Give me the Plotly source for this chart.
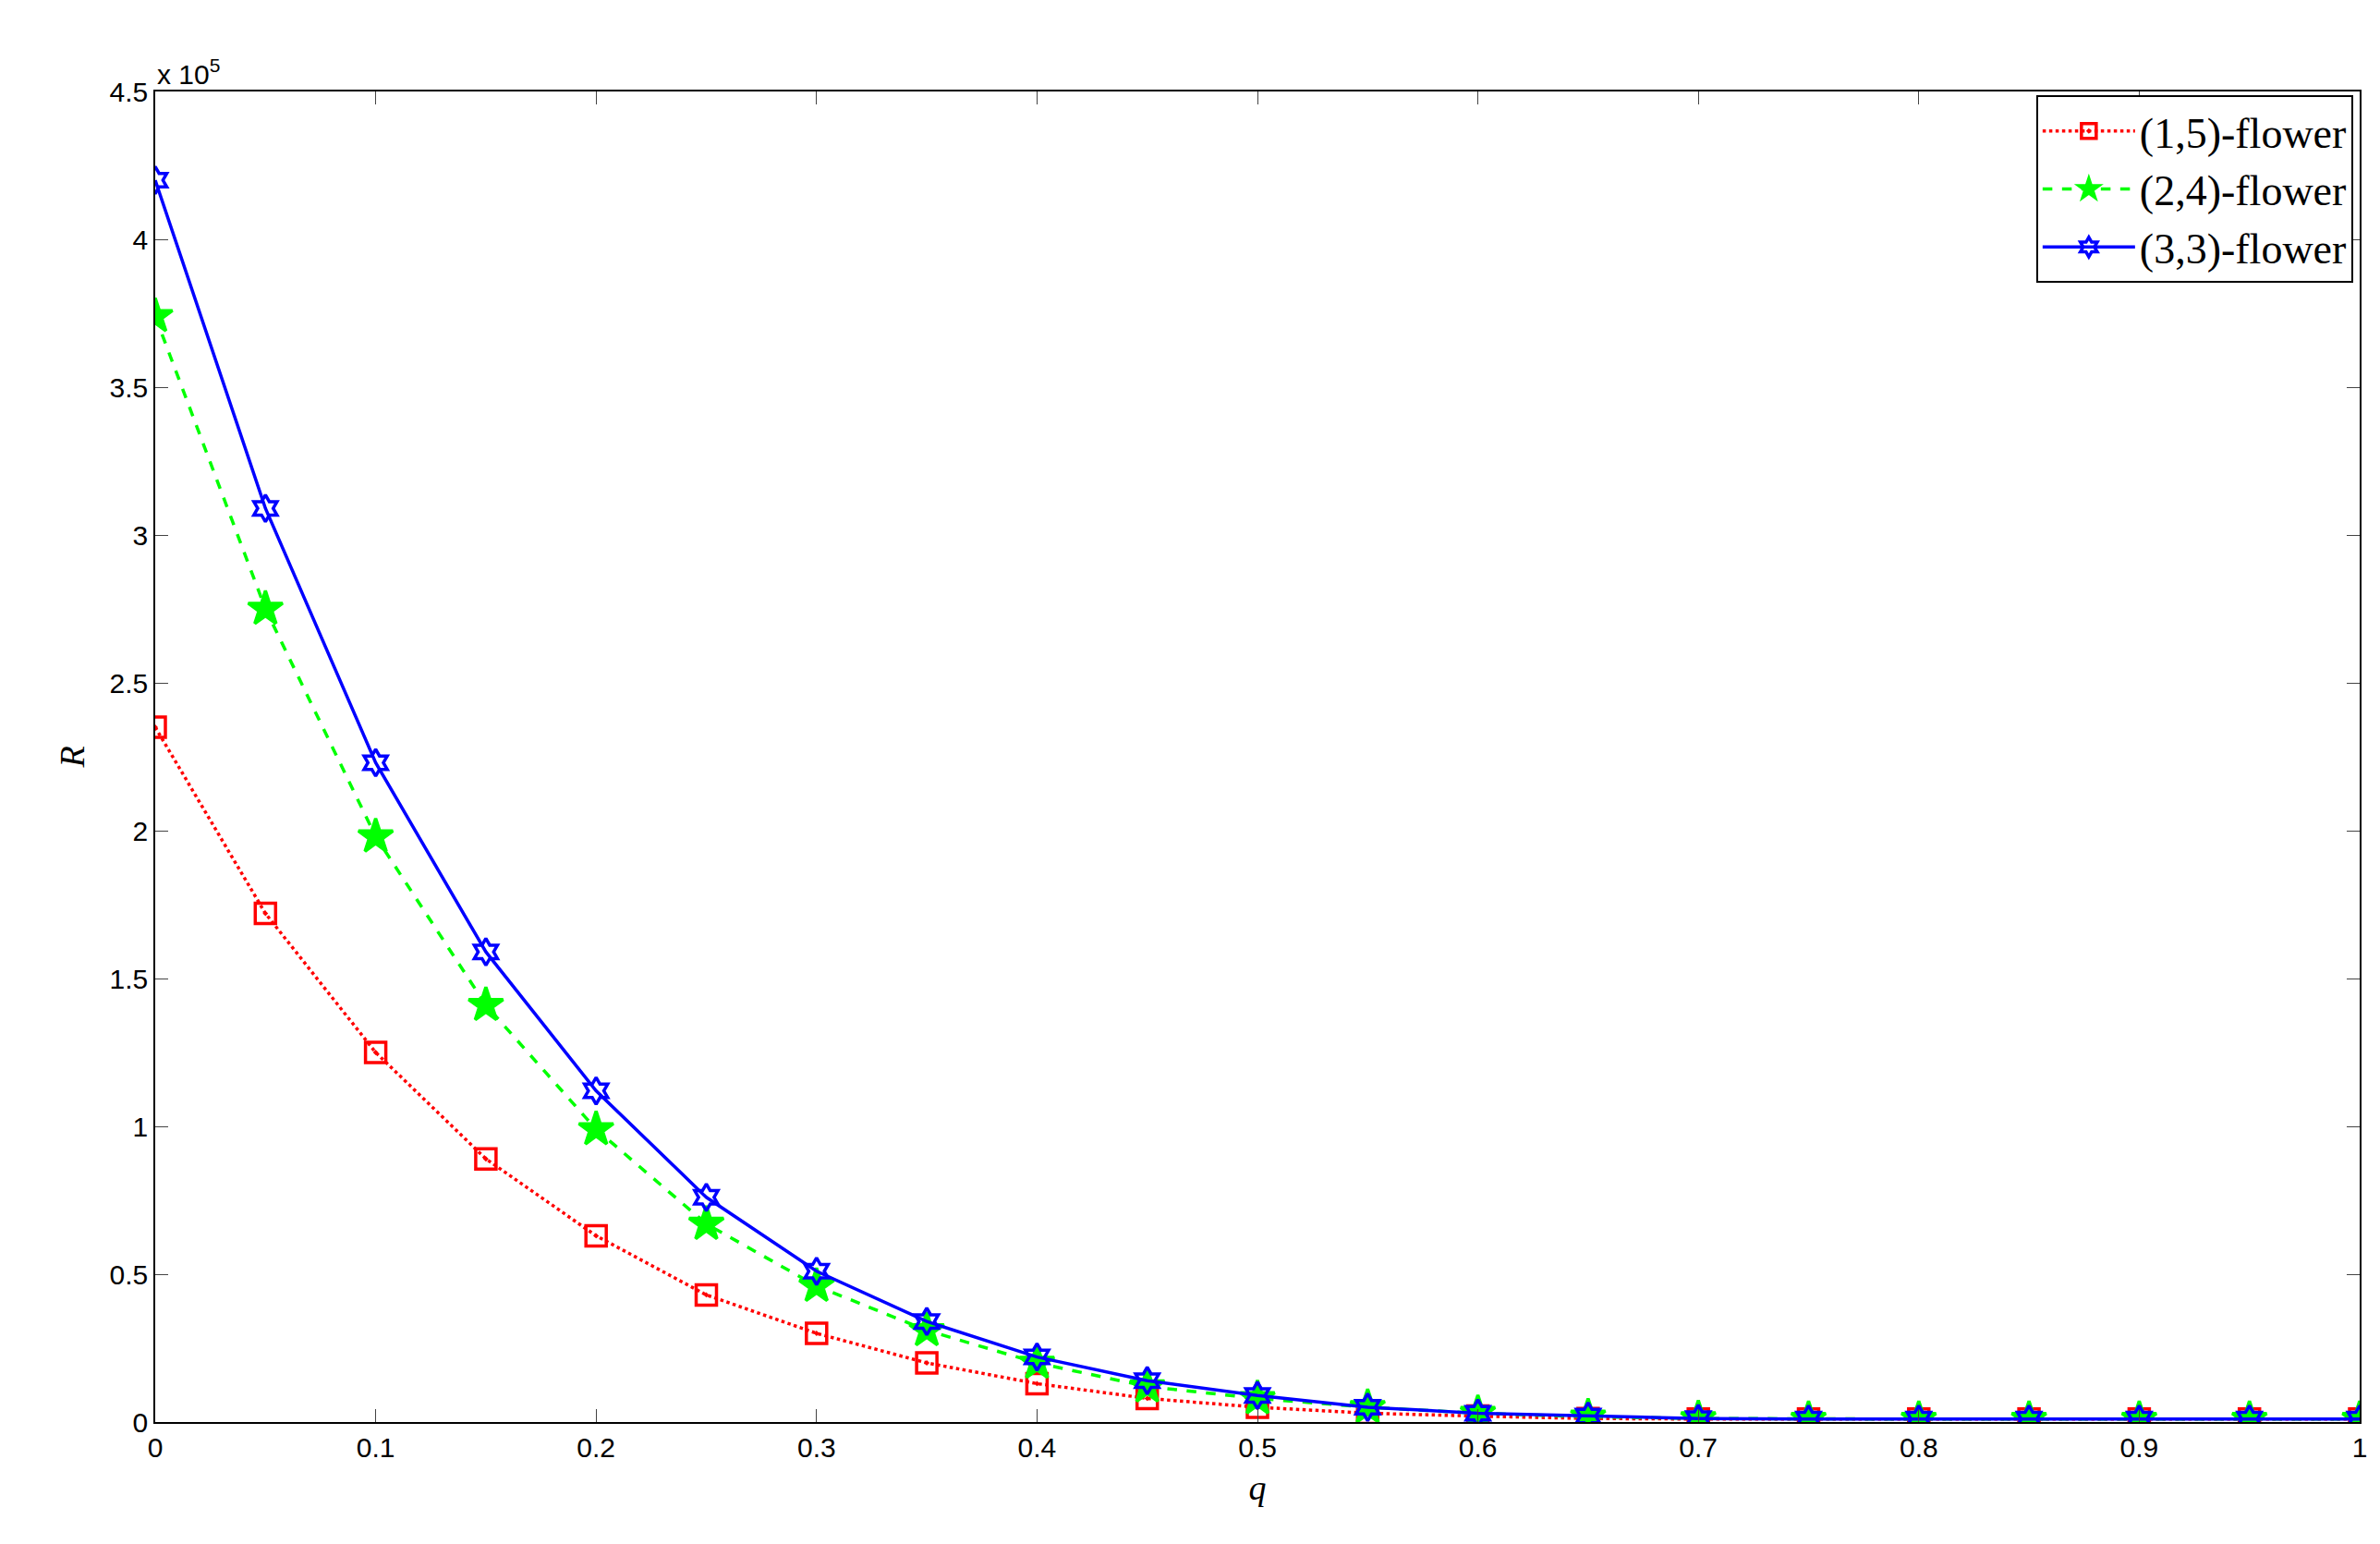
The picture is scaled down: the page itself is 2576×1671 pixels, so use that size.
import plotly.graph_objects as go

q = [round(0.05 * i, 2) for i in range(21)]
x_ticks = [0, 0.1, 0.2, 0.3, 0.4, 0.5, 0.6, 0.7, 0.8, 0.9, 1]
x_labels = ["0", "0.1", "0.2", "0.3", "0.4", "0.5", "0.6", "0.7", "0.8", "0.9", "1"]
y_labels = ["0", "0.5", "1", "1.5", "2", "2.5", "3", "3.5", "4", "4.5"]

# R values in units of 1e5
r_15 = [2.35, 1.72, 1.25, 0.89, 0.63, 0.43, 0.30, 0.20, 0.13, 0.08, 0.05, 0.03, 0.02, 0.012, 0.01, 0.01, 0.01, 0.01, 0.01, 0.01, 0.01]
r_24 = [3.74, 2.75, 1.98, 1.41, 0.99, 0.67, 0.46, 0.31, 0.20, 0.12, 0.08, 0.05, 0.03, 0.018, 0.012, 0.01, 0.01, 0.01, 0.01, 0.01, 0.01]
r_33 = [4.20, 3.09, 2.23, 1.59, 1.12, 0.76, 0.51, 0.34, 0.22, 0.14, 0.09, 0.05, 0.03, 0.02, 0.012, 0.01, 0.01, 0.01, 0.01, 0.01, 0.01]

series = [
    ("(1,5)-flower", r_15, "#ff0000", "dot", "square-open-dot", 22),
    ("(2,4)-flower", r_24, "#00ff00", "dash", "star", 28),
    ("(3,3)-flower", r_33, "#0000ff", "solid", "hexagram-open", 22),
]

fig = go.Figure()
for name, vals, color, dash, sym, size in series:
    fig.add_trace(go.Scatter(
        x=q, y=[v * 1e5 for v in vals], name=name, mode="lines+markers",
        line=dict(color=color, dash=dash, width=3.5),
        marker=dict(symbol=sym, size=size, color=color, line=dict(color=color, width=3.5)),
    ))

ax = dict(showline=True, linecolor="black", linewidth=1.5, mirror="ticks", ticks="inside",
          ticklen=14, showgrid=False, zeroline=False,
          tickfont=dict(family="Liberation Sans, Arial", size=30, color="black"))

fig.update_xaxes(range=[0, 1], tickvals=x_ticks, ticktext=x_labels,
                 title=dict(text="<i>q</i>", font=dict(family="Liberation Serif", size=38, color="black")), **ax)
fig.update_yaxes(range=[0, 4.5e5], tickvals=[i * 0.5e5 for i in range(10)], ticktext=y_labels,
                 title=dict(text="<i>R</i>", font=dict(family="Liberation Serif", size=38, color="black")), **ax)

fig.add_annotation(text="x 10<sup>5</sup>", xref="paper", yref="paper", x=0, y=1.0,
                   xanchor="left", yanchor="bottom", showarrow=False,
                   font=dict(family="Liberation Sans, Arial", size=30, color="black"))

fig.update_layout(
    width=2576, height=1671, plot_bgcolor="white", paper_bgcolor="white",
    margin=dict(l=160, r=30, t=91, b=140),
    legend=dict(x=0.997, y=0.997, xanchor="right", yanchor="top", bordercolor="black",
                borderwidth=2, bgcolor="white", itemwidth=100, tracegroupgap=0,
                font=dict(family="Liberation Serif, Times New Roman", size=46, color="black")),
)

fig.write_html("out.html")
